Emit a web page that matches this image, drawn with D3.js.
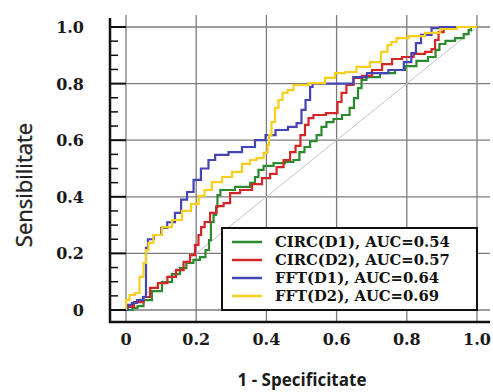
<!DOCTYPE html>
<html>
<head>
<meta charset="utf-8">
<script src="https://cdn.jsdelivr.net/npm/d3@7"></script>
<style>
  body { margin: 0; background: #fff; }
  svg { display: block; }
</style>
</head>
<body>
<svg id="roc-chart"></svg>
<script>
// ROC curves, points as [1 - specificity, sensitivity]
const circD1 = [[0,0],[0.011,0],[0.026,0.007],[0.04,0.014],[0.06,0.035],[0.088,0.067],[0.117,0.099],[0.145,0.127],[0.162,0.148],[0.182,0.166],[0.202,0.177],[0.219,0.187],[0.234,0.212],[0.239,0.247],[0.245,0.311],[0.254,0.336],[0.259,0.364],[0.262,0.406],[0.276,0.424],[0.345,0.435],[0.362,0.449],[0.373,0.47],[0.382,0.495],[0.402,0.509],[0.439,0.519],[0.467,0.523],[0.487,0.53],[0.501,0.558],[0.516,0.576],[0.533,0.597],[0.553,0.618],[0.561,0.647],[0.581,0.664],[0.601,0.675],[0.63,0.689],[0.644,0.714],[0.655,0.749],[0.667,0.784],[0.675,0.813],[0.695,0.823],[0.752,0.837],[0.781,0.848],[0.809,0.862],[0.846,0.88],[0.875,0.894],[0.889,0.919],[0.897,0.94],[0.923,0.951],[0.952,0.961],[0.972,0.975],[0.98,0.989],[0.986,1],[1,1]]
const circD2 = [[0,0],[0.006,0.011],[0.04,0.028],[0.06,0.046],[0.077,0.078],[0.105,0.095],[0.131,0.117],[0.154,0.141],[0.174,0.17],[0.191,0.194],[0.202,0.23],[0.211,0.265],[0.217,0.293],[0.231,0.311],[0.248,0.343],[0.268,0.367],[0.288,0.378],[0.305,0.413],[0.345,0.424],[0.373,0.445],[0.402,0.466],[0.419,0.481],[0.439,0.505],[0.459,0.53],[0.476,0.558],[0.49,0.58],[0.504,0.618],[0.516,0.654],[0.524,0.678],[0.544,0.689],[0.595,0.696],[0.61,0.735],[0.618,0.767],[0.638,0.795],[0.658,0.82],[0.687,0.827],[0.715,0.848],[0.744,0.869],[0.772,0.887],[0.801,0.894],[0.838,0.905],[0.866,0.912],[0.875,0.922],[0.886,0.954],[0.895,0.982],[0.915,0.996],[0.943,1],[1,1]]
const fftD1 = [[0,0],[0.011,0.018],[0.023,0.025],[0.04,0.035],[0.057,0.046],[0.057,0.22],[0.068,0.25],[0.091,0.265],[0.11,0.29],[0.125,0.31],[0.154,0.343],[0.16,0.39],[0.188,0.417],[0.197,0.46],[0.23,0.5],[0.24,0.53],[0.268,0.548],[0.316,0.558],[0.345,0.576],[0.39,0.6],[0.405,0.618],[0.447,0.636],[0.476,0.647],[0.496,0.66],[0.504,0.707],[0.519,0.742],[0.53,0.788],[0.533,0.8],[0.638,0.8],[0.658,0.823],[0.715,0.837],[0.78,0.848],[0.803,0.876],[0.823,0.908],[0.829,0.943],[0.852,0.972],[0.889,0.996],[0.9,1],[1,1]]
const fftD2 = [[0,0],[0,0.035],[0.02,0.053],[0.031,0.06],[0.046,0.117],[0.054,0.166],[0.06,0.212],[0.068,0.237],[0.088,0.265],[0.117,0.293],[0.145,0.318],[0.174,0.35],[0.197,0.375],[0.217,0.403],[0.23,0.424],[0.259,0.452],[0.288,0.47],[0.316,0.488],[0.345,0.516],[0.362,0.53],[0.382,0.537],[0.402,0.555],[0.405,0.583],[0.41,0.618],[0.419,0.664],[0.43,0.714],[0.439,0.742],[0.453,0.767],[0.467,0.777],[0.487,0.795],[0.553,0.802],[0.581,0.82],[0.61,0.837],[0.638,0.841],[0.675,0.859],[0.715,0.876],[0.738,0.912],[0.752,0.936],[0.76,0.947],[0.781,0.961],[0.829,0.968],[0.875,0.979],[0.915,0.993],[0.972,1],[1,1]]

const seriesNames = ["CIRC(D1), AUC=0.54", "CIRC(D2), AUC=0.57", "FFT(D1), AUC=0.64", "FFT(D2), AUC=0.69"]
const seriesColors = ["#2b8a2e", "#d42626", "#4444b4", "#f7cf1c"]
const tickValues = [0, 0.2, 0.4, 0.6, 0.8, 1.0]
const tickLabels = ["0", "0.2", "0.4", "0.6", "0.8", "1.0"]

let svgWidth = 493, svgHeight = 392
let frame = {left: 110, right: 490, top: 15, bottom: 322} // axis box, grid runs past the data range

let svg = d3.select("#roc-chart")
    .attr("width", svgWidth)
    .attr("height", svgHeight)

let xScale = d3.scaleLinear().domain([0, 1]).range([126, 477])
let yScale = d3.scaleLinear().domain([0, 1]).range([310, 27])

// grid lines
let grid = svg.append("g").attr("stroke", "#7c7c7c").attr("stroke-width", 1.3)
grid.selectAll(".vgrid").data(tickValues).enter().append("line")
    .attr("x1", d => xScale(d)).attr("x2", d => xScale(d))
    .attr("y1", frame.top).attr("y2", frame.bottom)
grid.selectAll(".hgrid").data(tickValues).enter().append("line")
    .attr("x1", frame.left).attr("x2", frame.right)
    .attr("y1", d => yScale(d)).attr("y2", d => yScale(d))

// chance diagonal
svg.append("line")
    .attr("x1", xScale(0)).attr("y1", yScale(0))
    .attr("x2", xScale(1)).attr("y2", yScale(1))
    .attr("stroke", "#c4c4c4").attr("stroke-width", 1)

// curves
let line = d3.line()
    .x(d => xScale(d[0]))
    .y(d => yScale(d[1]))
    .curve(d3.curveStep)

;[circD1, circD2, fftD1, fftD2].forEach((data, i) => {
    svg.append("path")
        .attr("d", line(data))
        .attr("fill", "none")
        .attr("stroke", seriesColors[i])
        .attr("stroke-width", 2.2)
})

// legend
let legend = svg.append("g")
legend.append("rect")
    .attr("x", 222).attr("y", 228).attr("width", 255).attr("height", 82)
    .attr("fill", "#fff").attr("stroke", "#111").attr("stroke-width", 2)
seriesNames.forEach((name, i) => {
    let rowY = 242 + i * 18
    legend.append("line")
        .attr("x1", 232).attr("x2", 262).attr("y1", rowY).attr("y2", rowY)
        .attr("stroke", seriesColors[i]).attr("stroke-width", 2.5)
    legend.append("text")
        .attr("x", 275).attr("y", rowY + 5)
        .attr("font-family", "DejaVu Serif").attr("font-weight", "bold")
        .attr("font-size", 14.8).attr("fill", "#111")
        .text(name)
})

// axes box lines
svg.append("line") // left axis
    .attr("x1", frame.left).attr("x2", frame.left)
    .attr("y1", frame.top + 3).attr("y2", frame.bottom + 1)
    .attr("stroke", "#111").attr("stroke-width", 2.5)
svg.append("line") // bottom axis
    .attr("x1", frame.left - 1).attr("x2", frame.right)
    .attr("y1", frame.bottom).attr("y2", frame.bottom)
    .attr("stroke", "#111").attr("stroke-width", 2.5)

// y ticks, major and minor
let minorTicks = d3.range(0.05, 1.0, 0.05).filter(v => Math.abs(v * 5 - Math.round(v * 5)) > 1e-6)
svg.selectAll(".ymajor").data(tickValues).enter().append("line")
    .attr("x1", frame.left).attr("x2", xScale(0))
    .attr("y1", d => yScale(d)).attr("y2", d => yScale(d))
    .attr("stroke", "#111").attr("stroke-width", 2)
svg.selectAll(".yminor").data(minorTicks).enter().append("line")
    .attr("x1", frame.left).attr("x2", frame.left + 8)
    .attr("y1", d => yScale(d)).attr("y2", d => yScale(d))
    .attr("stroke", "#111").attr("stroke-width", 1.5)

// tick labels
svg.selectAll(".ylabel").data(tickValues).enter().append("text")
    .attr("x", 84).attr("y", d => yScale(d) + 6)
    .attr("text-anchor", "end")
    .attr("font-family", "DejaVu Serif").attr("font-weight", "bold")
    .attr("font-size", 16).attr("fill", "#1a1a1a")
    .text((d, i) => tickLabels[i])
svg.selectAll(".xlabel").data(tickValues).enter().append("text")
    .attr("x", d => xScale(d)).attr("y", 345)
    .attr("text-anchor", "middle")
    .attr("font-family", "DejaVu Serif").attr("font-weight", "bold")
    .attr("font-size", 16).attr("fill", "#1a1a1a")
    .text((d, i) => tickLabels[i])

// axis titles
svg.append("text")
    .attr("transform", "translate(32, 185) rotate(-90)")
    .attr("text-anchor", "middle")
    .attr("font-family", "Open Sans").attr("font-size", 22)
    .attr("fill", "#222").attr("stroke", "#222").attr("stroke-width", 0.4)
    .text("Sensibilitate")
svg.append("text")
    .attr("x", 302).attr("y", 386)
    .attr("text-anchor", "middle")
    .attr("font-family", "Open Sans").attr("font-weight", "bold")
    .attr("font-size", 17).attr("fill", "#1a1a1a")
    .text("1 - Specificitate")
</script>
</body>
</html>
